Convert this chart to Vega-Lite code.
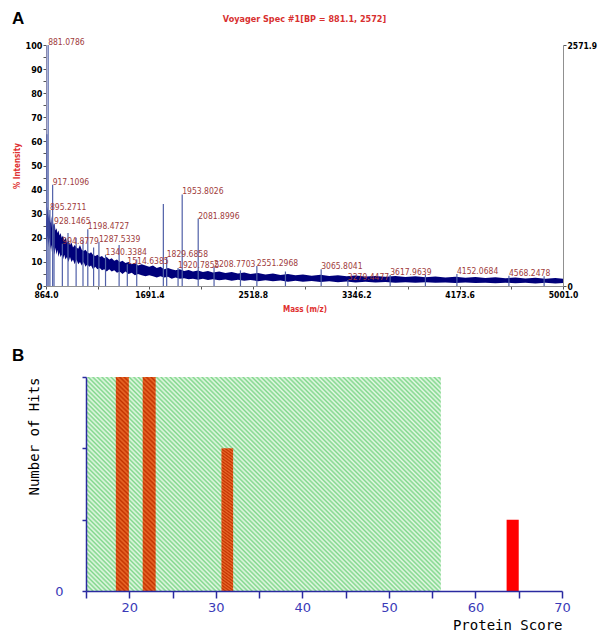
{
"$schema":"https://vega.github.io/schema/vega-lite/v6.json",
"background":"white",
"padding":{"left":12,"top":10,"right":4,"bottom":2},
"title":{"text":"A","anchor":"start","frame":"bounds","offset":-13,"fontSize":17,"fontWeight":"bold","font":"Liberation Sans, Arial, sans-serif","color":"#000000"},
"config":{"view":{"stroke":null},"axis":{"grid":false}},
"datasets":{
"band":[
{"mz":864,"lo":18,"hi":26},{"mz":868,"lo":20,"hi":30},{"mz":872,"lo":17,"hi":29},{"mz":876,"lo":21,"hi":33},{"mz":880,"lo":19,"hi":31},{"mz":885,"lo":16,"hi":28},{"mz":890,"lo":20,"hi":30},{"mz":895,"lo":18,"hi":27},{"mz":900,"lo":15,"hi":26},{"mz":906,"lo":17,"hi":29},{"mz":912,"lo":14,"hi":24},{"mz":918,"lo":17,"hi":27},{"mz":925,"lo":15,"hi":25},{"mz":932,"lo":13,"hi":26},{"mz":940,"lo":16,"hi":23},{"mz":948,"lo":13,"hi":24},{"mz":956,"lo":15,"hi":22},{"mz":964,"lo":12,"hi":23},{"mz":972,"lo":14,"hi":21},{"mz":980,"lo":12,"hi":22},{"mz":990,"lo":13,"hi":20},{"mz":1000,"lo":11,"hi":21},{"mz":1010,"lo":13,"hi":19},{"mz":1020,"lo":11,"hi":20},{"mz":1032,"lo":12,"hi":18},{"mz":1044,"lo":10,"hi":19},{"mz":1056,"lo":12,"hi":17},{"mz":1068,"lo":10,"hi":18},{"mz":1080,"lo":11,"hi":16},{"mz":1094,"lo":9,"hi":17},{"mz":1108,"lo":11,"hi":16},{"mz":1122,"lo":9,"hi":15.5},{"mz":1136,"lo":10,"hi":17},{"mz":1150,"lo":8.5,"hi":15},{"mz":1165,"lo":10,"hi":14.5},{"mz":1180,"lo":8,"hi":15},{"mz":1195,"lo":9,"hi":14},{"mz":1210,"lo":8,"hi":13.5},{"mz":1225,"lo":8.5,"hi":14},{"mz":1240,"lo":7,"hi":13},{"mz":1258,"lo":8,"hi":12.5},{"mz":1276,"lo":7,"hi":13},{"mz":1294,"lo":7.5,"hi":12},{"mz":1312,"lo":6.5,"hi":12.5},{"mz":1330,"lo":7,"hi":11.5},{"mz":1350,"lo":6,"hi":12},{"mz":1370,"lo":7,"hi":11},{"mz":1390,"lo":6,"hi":11.5},{"mz":1410,"lo":6.5,"hi":10.5},{"mz":1432,"lo":5.5,"hi":11},{"mz":1454,"lo":6,"hi":10},{"mz":1476,"lo":5,"hi":10.5},{"mz":1500,"lo":6,"hi":9.5},{"mz":1525,"lo":5,"hi":10},{"mz":1550,"lo":5.5,"hi":9},{"mz":1575,"lo":4.5,"hi":9.5},{"mz":1600,"lo":5,"hi":8.5},{"mz":1630,"lo":4.5,"hi":9},{"mz":1660,"lo":4,"hi":8.5},{"mz":1690,"lo":4.5,"hi":8},{"mz":1720,"lo":4,"hi":8.5},{"mz":1750,"lo":3.5,"hi":7.5},{"mz":1780,"lo":4,"hi":8},{"mz":1810,"lo":3.5,"hi":7},{"mz":1840,"lo":3.8,"hi":7.5},{"mz":1870,"lo":3,"hi":7},{"mz":1900,"lo":3.5,"hi":6.5},{"mz":1935,"lo":3,"hi":7},{"mz":1970,"lo":3.2,"hi":6.2},{"mz":2005,"lo":2.8,"hi":6.6},{"mz":2040,"lo":3,"hi":6},{"mz":2080,"lo":2.6,"hi":6.4},{"mz":2120,"lo":3,"hi":5.8},{"mz":2160,"lo":2.5,"hi":6.2},{"mz":2200,"lo":2.8,"hi":5.6},{"mz":2250,"lo":2.4,"hi":6},{"mz":2300,"lo":2.7,"hi":5.4},{"mz":2350,"lo":2.2,"hi":5.8},{"mz":2400,"lo":2.6,"hi":5.2},{"mz":2450,"lo":2.2,"hi":5.6},{"mz":2500,"lo":2.5,"hi":5},{"mz":2560,"lo":2,"hi":5.4},{"mz":2620,"lo":2.4,"hi":4.8},{"mz":2680,"lo":2,"hi":5.2},{"mz":2740,"lo":2.3,"hi":4.6},{"mz":2800,"lo":1.8,"hi":5},{"mz":2860,"lo":2.2,"hi":4.5},{"mz":2920,"lo":1.8,"hi":4.8},{"mz":2990,"lo":2.1,"hi":4.3},{"mz":3060,"lo":1.7,"hi":4.7},{"mz":3130,"lo":2,"hi":4.2},{"mz":3200,"lo":1.6,"hi":4.5},{"mz":3270,"lo":1.9,"hi":4},{"mz":3340,"lo":1.5,"hi":4.4},{"mz":3420,"lo":1.8,"hi":3.9},{"mz":3500,"lo":1.5,"hi":4.2},{"mz":3580,"lo":1.7,"hi":3.8},{"mz":3660,"lo":1.4,"hi":4.1},{"mz":3740,"lo":1.6,"hi":3.7},{"mz":3820,"lo":1.3,"hi":4},{"mz":3900,"lo":1.6,"hi":3.6},{"mz":3980,"lo":1.3,"hi":3.9},{"mz":4060,"lo":1.5,"hi":3.5},{"mz":4140,"lo":1.2,"hi":3.8},{"mz":4220,"lo":1.5,"hi":3.4},{"mz":4300,"lo":1.2,"hi":3.7},{"mz":4380,"lo":1.4,"hi":3.3},{"mz":4460,"lo":1.1,"hi":3.6},{"mz":4540,"lo":1.4,"hi":3.2},{"mz":4620,"lo":1.1,"hi":3.5},{"mz":4700,"lo":1.3,"hi":3.1},{"mz":4780,"lo":1,"hi":3.4},{"mz":4860,"lo":1.3,"hi":3},{"mz":4940,"lo":1,"hi":3.3},{"mz":5001,"lo":1.2,"hi":3}
],
"peaks":[
{"mz":871,"int":63,"label":""},{"mz":881.0786,"int":100,"label":"881.0786"},{"mz":895.2711,"int":31.5,"label":"895.2711"},{"mz":917.1096,"int":42,"label":"917.1096"},{"mz":928.1465,"int":25.7,"label":"928.1465"},{"mz":994.8779,"int":17.5,"label":"994.8779"},{"mz":1040,"int":22,"label":""},{"mz":1105,"int":20,"label":""},{"mz":1160,"int":19,"label":""},{"mz":1198.4727,"int":23.5,"label":"1198.4727"},{"mz":1245,"int":16,"label":""},{"mz":1287.5339,"int":18.3,"label":"1287.5339"},{"mz":1340.3384,"int":13,"label":"1340.3384"},{"mz":1449,"int":17,"label":""},{"mz":1514.6385,"int":9,"label":"1514.6385"},{"mz":1590,"int":11,"label":""},{"mz":1803,"int":34,"label":""},{"mz":1829.6858,"int":12,"label":"1829.6858"},{"mz":1920.7855,"int":7.5,"label":"1920.7855"},{"mz":1953.8026,"int":38,"label":"1953.8026"},{"mz":2081.8996,"int":28,"label":"2081.8996"},{"mz":2208.7703,"int":8,"label":"2208.7703"},{"mz":2420,"int":6.5,"label":""},{"mz":2551.2968,"int":8.3,"label":"2551.2968"},{"mz":2780,"int":6,"label":""},{"mz":3065.8041,"int":7,"label":"3065.8041"},{"mz":3279.4477,"int":2.5,"label":"3279.4477"},{"mz":3617.9639,"int":4.6,"label":"3617.9639"},{"mz":3900,"int":4.8,"label":""},{"mz":4152.0684,"int":5,"label":"4152.0684"},{"mz":4568.2478,"int":4.3,"label":"4568.2478"},{"mz":4850,"int":4,"label":""}
],
"sig":[{"from":15,"to":56,"top":3}],
"hits":[
{"start":18.45,"end":19.95,"hits":3,"zone":"in"},{"start":21.55,"end":23.05,"hits":3,"zone":"in"},{"start":30.65,"end":32.0,"hits":2,"zone":"in"},{"start":63.6,"end":65.0,"hits":1,"zone":"out"}
]
},
"spacing":33,
"vconcat":[
{
"width":517,"height":241,
"title":{"text":"Voyager Spec #1[BP = 881.1, 2572]","color":"#d83030","font":"DejaVu Sans Condensed, sans-serif","fontSize":9,"fontWeight":"bold","anchor":"middle","frame":"group","offset":14},
"resolve":{"axis":{"y":"independent"}},
"layer":[
{"data":{"name":"band"},"mark":{"type":"area","color":"#00007a","opacity":1},
"encoding":{
"x":{"field":"mz","type":"quantitative","title":"Mass (m/z)","scale":{"domain":[864,5001],"nice":false,"zero":false},
"axis":{"values":[864,1277.7,1691.4,2105.1,2518.8,2932.5,3346.2,3759.9,4173.6,4587.3,5001],"format":".1f","labelExpr":"round((datum.value-864)/413.7) % 2 == 0 ? datum.label : ''","labelFlush":false,"labelOverlap":false,"tickSize":3,"tickColor":"#555555","domainColor":"#909090","labelFont":"DejaVu Sans Condensed, sans-serif","labelFontWeight":"bold","labelFontSize":8.5,"labelColor":"#000000","labelPadding":1,"titleColor":"#e03030","titleFont":"DejaVu Sans Condensed, sans-serif","titleFontSize":8,"titleFontWeight":"bold","titlePadding":7}},
"y":{"field":"lo","type":"quantitative","title":"% Intensity","scale":{"domain":[0,100],"nice":false,"zero":true},
"axis":{"values":[0,5,10,15,20,25,30,35,40,45,50,55,60,65,70,75,80,85,90,95,100],"labelExpr":"datum.value % 10 == 0 ? datum.label : ''","labelOverlap":false,"tickSize":3,"tickColor":"#555555","domainColor":"#8a8ab0","labelFont":"DejaVu Sans Condensed, sans-serif","labelFontWeight":"bold","labelFontSize":9,"labelColor":"#000000","labelPadding":1,"titleColor":"#e03030","titleFont":"DejaVu Sans Condensed, sans-serif","titleFontSize":8,"titleFontWeight":"bold","titlePadding":4}},
"y2":{"field":"hi"}}},
{"data":{"name":"peaks"},"mark":{"type":"rule","color":"#5060a8","strokeWidth":1.2},
"encoding":{
"x":{"field":"mz","type":"quantitative","title":"Mass (m/z)","scale":{"domain":[864,5001],"nice":false,"zero":false}},
"y":{"field":"int","type":"quantitative","scale":{"domain":[0,100],"nice":false,"zero":true},"axis":null},
"y2":{"datum":0}}},
{"data":{"name":"peaks"},"mark":{"type":"text","align":"left","baseline":"alphabetic","color":"#a03c3c","font":"DejaVu Sans Condensed, sans-serif","fontSize":8.5},
"encoding":{
"x":{"field":"mz","type":"quantitative","title":"Mass (m/z)","scale":{"domain":[864,5001],"nice":false,"zero":false}},
"y":{"field":"int","type":"quantitative","scale":{"domain":[0,100],"nice":false,"zero":true},"axis":null},
"text":{"field":"label"}}},
{"data":{"name":"peaks"},"mark":{"type":"point","opacity":0},
"encoding":{
"x":{"field":"mz","type":"quantitative","title":"Mass (m/z)","scale":{"domain":[864,5001],"nice":false,"zero":false}},
"y":{"field":"int","type":"quantitative","scale":{"domain":[0,100],"nice":false,"zero":true},
"axis":{"orient":"right","title":null,"values":[0,100],"labelExpr":"datum.value == 100 ? '2571.9' : '0'","tickSize":3,"tickColor":"#555555","domainColor":"#909090","labelFont":"DejaVu Sans Condensed, sans-serif","labelFontWeight":"bold","labelFontSize":8.5,"labelColor":"#000000","labelPadding":1,"labelOverlap":false}}}}
]
},
{
"width":516,"height":214,
"title":{"text":"B","anchor":"start","frame":"group","dx":-34,"offset":6,"fontSize":17,"fontWeight":"bold","font":"Liberation Sans, Arial, sans-serif","color":"#000000"},
"layer":[
{"data":{"name":"sig"},
"mark":{"type":"rect","fill":{"gradient":"linear","x1":0,"y1":1,"x2":1.1755,"y2":0.291,"stops":[
{"offset":0,"color":"#e8f9e8"},{"offset":0.004,"color":"#7fd68a"},{"offset":0.008,"color":"#e8f9e8"},{"offset":0.012,"color":"#7fd68a"},{"offset":0.016,"color":"#e8f9e8"},{"offset":0.02,"color":"#7fd68a"},{"offset":0.024,"color":"#e8f9e8"},{"offset":0.028,"color":"#7fd68a"},{"offset":0.032,"color":"#e8f9e8"},{"offset":0.036,"color":"#7fd68a"},
{"offset":0.04,"color":"#e8f9e8"},{"offset":0.044,"color":"#7fd68a"},{"offset":0.048,"color":"#e8f9e8"},{"offset":0.052,"color":"#7fd68a"},{"offset":0.056,"color":"#e8f9e8"},{"offset":0.06,"color":"#7fd68a"},{"offset":0.064,"color":"#e8f9e8"},{"offset":0.068,"color":"#7fd68a"},{"offset":0.072,"color":"#e8f9e8"},{"offset":0.076,"color":"#7fd68a"},
{"offset":0.08,"color":"#e8f9e8"},{"offset":0.084,"color":"#7fd68a"},{"offset":0.088,"color":"#e8f9e8"},{"offset":0.092,"color":"#7fd68a"},{"offset":0.096,"color":"#e8f9e8"},{"offset":0.1,"color":"#7fd68a"},{"offset":0.104,"color":"#e8f9e8"},{"offset":0.108,"color":"#7fd68a"},{"offset":0.112,"color":"#e8f9e8"},{"offset":0.116,"color":"#7fd68a"},
{"offset":0.12,"color":"#e8f9e8"},{"offset":0.124,"color":"#7fd68a"},{"offset":0.128,"color":"#e8f9e8"},{"offset":0.132,"color":"#7fd68a"},{"offset":0.136,"color":"#e8f9e8"},{"offset":0.14,"color":"#7fd68a"},{"offset":0.144,"color":"#e8f9e8"},{"offset":0.148,"color":"#7fd68a"},{"offset":0.152,"color":"#e8f9e8"},{"offset":0.156,"color":"#7fd68a"},
{"offset":0.16,"color":"#e8f9e8"},{"offset":0.164,"color":"#7fd68a"},{"offset":0.168,"color":"#e8f9e8"},{"offset":0.172,"color":"#7fd68a"},{"offset":0.176,"color":"#e8f9e8"},{"offset":0.18,"color":"#7fd68a"},{"offset":0.184,"color":"#e8f9e8"},{"offset":0.188,"color":"#7fd68a"},{"offset":0.192,"color":"#e8f9e8"},{"offset":0.196,"color":"#7fd68a"},
{"offset":0.2,"color":"#e8f9e8"},{"offset":0.204,"color":"#7fd68a"},{"offset":0.208,"color":"#e8f9e8"},{"offset":0.212,"color":"#7fd68a"},{"offset":0.216,"color":"#e8f9e8"},{"offset":0.22,"color":"#7fd68a"},{"offset":0.224,"color":"#e8f9e8"},{"offset":0.228,"color":"#7fd68a"},{"offset":0.232,"color":"#e8f9e8"},{"offset":0.236,"color":"#7fd68a"},
{"offset":0.24,"color":"#e8f9e8"},{"offset":0.244,"color":"#7fd68a"},{"offset":0.248,"color":"#e8f9e8"},{"offset":0.252,"color":"#7fd68a"},{"offset":0.256,"color":"#e8f9e8"},{"offset":0.26,"color":"#7fd68a"},{"offset":0.264,"color":"#e8f9e8"},{"offset":0.268,"color":"#7fd68a"},{"offset":0.272,"color":"#e8f9e8"},{"offset":0.276,"color":"#7fd68a"},
{"offset":0.28,"color":"#e8f9e8"},{"offset":0.284,"color":"#7fd68a"},{"offset":0.288,"color":"#e8f9e8"},{"offset":0.292,"color":"#7fd68a"},{"offset":0.296,"color":"#e8f9e8"},{"offset":0.3,"color":"#7fd68a"},{"offset":0.304,"color":"#e8f9e8"},{"offset":0.308,"color":"#7fd68a"},{"offset":0.312,"color":"#e8f9e8"},{"offset":0.316,"color":"#7fd68a"},
{"offset":0.32,"color":"#e8f9e8"},{"offset":0.324,"color":"#7fd68a"},{"offset":0.328,"color":"#e8f9e8"},{"offset":0.332,"color":"#7fd68a"},{"offset":0.336,"color":"#e8f9e8"},{"offset":0.34,"color":"#7fd68a"},{"offset":0.344,"color":"#e8f9e8"},{"offset":0.348,"color":"#7fd68a"},{"offset":0.352,"color":"#e8f9e8"},{"offset":0.356,"color":"#7fd68a"},
{"offset":0.36,"color":"#e8f9e8"},{"offset":0.364,"color":"#7fd68a"},{"offset":0.368,"color":"#e8f9e8"},{"offset":0.372,"color":"#7fd68a"},{"offset":0.376,"color":"#e8f9e8"},{"offset":0.38,"color":"#7fd68a"},{"offset":0.384,"color":"#e8f9e8"},{"offset":0.388,"color":"#7fd68a"},{"offset":0.392,"color":"#e8f9e8"},{"offset":0.396,"color":"#7fd68a"},
{"offset":0.4,"color":"#e8f9e8"},{"offset":0.404,"color":"#7fd68a"},{"offset":0.408,"color":"#e8f9e8"},{"offset":0.412,"color":"#7fd68a"},{"offset":0.416,"color":"#e8f9e8"},{"offset":0.42,"color":"#7fd68a"},{"offset":0.424,"color":"#e8f9e8"},{"offset":0.428,"color":"#7fd68a"},{"offset":0.432,"color":"#e8f9e8"},{"offset":0.436,"color":"#7fd68a"},
{"offset":0.44,"color":"#e8f9e8"},{"offset":0.444,"color":"#7fd68a"},{"offset":0.448,"color":"#e8f9e8"},{"offset":0.452,"color":"#7fd68a"},{"offset":0.456,"color":"#e8f9e8"},{"offset":0.46,"color":"#7fd68a"},{"offset":0.464,"color":"#e8f9e8"},{"offset":0.468,"color":"#7fd68a"},{"offset":0.472,"color":"#e8f9e8"},{"offset":0.476,"color":"#7fd68a"},
{"offset":0.48,"color":"#e8f9e8"},{"offset":0.484,"color":"#7fd68a"},{"offset":0.488,"color":"#e8f9e8"},{"offset":0.492,"color":"#7fd68a"},{"offset":0.496,"color":"#e8f9e8"},{"offset":0.5,"color":"#7fd68a"},{"offset":0.504,"color":"#e8f9e8"},{"offset":0.508,"color":"#7fd68a"},{"offset":0.512,"color":"#e8f9e8"},{"offset":0.516,"color":"#7fd68a"},
{"offset":0.52,"color":"#e8f9e8"},{"offset":0.524,"color":"#7fd68a"},{"offset":0.528,"color":"#e8f9e8"},{"offset":0.532,"color":"#7fd68a"},{"offset":0.536,"color":"#e8f9e8"},{"offset":0.54,"color":"#7fd68a"},{"offset":0.544,"color":"#e8f9e8"},{"offset":0.548,"color":"#7fd68a"},{"offset":0.552,"color":"#e8f9e8"},{"offset":0.556,"color":"#7fd68a"},
{"offset":0.56,"color":"#e8f9e8"},{"offset":0.564,"color":"#7fd68a"},{"offset":0.568,"color":"#e8f9e8"},{"offset":0.572,"color":"#7fd68a"},{"offset":0.576,"color":"#e8f9e8"},{"offset":0.58,"color":"#7fd68a"},{"offset":0.584,"color":"#e8f9e8"},{"offset":0.588,"color":"#7fd68a"},{"offset":0.592,"color":"#e8f9e8"},{"offset":0.596,"color":"#7fd68a"},
{"offset":0.6,"color":"#e8f9e8"},{"offset":0.604,"color":"#7fd68a"},{"offset":0.608,"color":"#e8f9e8"},{"offset":0.612,"color":"#7fd68a"},{"offset":0.616,"color":"#e8f9e8"},{"offset":0.62,"color":"#7fd68a"},{"offset":0.624,"color":"#e8f9e8"},{"offset":0.628,"color":"#7fd68a"},{"offset":0.632,"color":"#e8f9e8"},{"offset":0.636,"color":"#7fd68a"},
{"offset":0.64,"color":"#e8f9e8"},{"offset":0.644,"color":"#7fd68a"},{"offset":0.648,"color":"#e8f9e8"},{"offset":0.652,"color":"#7fd68a"},{"offset":0.656,"color":"#e8f9e8"},{"offset":0.66,"color":"#7fd68a"},{"offset":0.664,"color":"#e8f9e8"},{"offset":0.668,"color":"#7fd68a"},{"offset":0.672,"color":"#e8f9e8"},{"offset":0.676,"color":"#7fd68a"},
{"offset":0.68,"color":"#e8f9e8"},{"offset":0.684,"color":"#7fd68a"},{"offset":0.688,"color":"#e8f9e8"},{"offset":0.692,"color":"#7fd68a"},{"offset":0.696,"color":"#e8f9e8"},{"offset":0.7,"color":"#7fd68a"},{"offset":0.704,"color":"#e8f9e8"},{"offset":0.708,"color":"#7fd68a"},{"offset":0.712,"color":"#e8f9e8"},{"offset":0.716,"color":"#7fd68a"},
{"offset":0.72,"color":"#e8f9e8"},{"offset":0.724,"color":"#7fd68a"},{"offset":0.728,"color":"#e8f9e8"},{"offset":0.732,"color":"#7fd68a"},{"offset":0.736,"color":"#e8f9e8"},{"offset":0.74,"color":"#7fd68a"},{"offset":0.744,"color":"#e8f9e8"},{"offset":0.748,"color":"#7fd68a"},{"offset":0.752,"color":"#e8f9e8"},{"offset":0.756,"color":"#7fd68a"},
{"offset":0.76,"color":"#e8f9e8"},{"offset":0.764,"color":"#7fd68a"},{"offset":0.768,"color":"#e8f9e8"},{"offset":0.772,"color":"#7fd68a"},{"offset":0.776,"color":"#e8f9e8"},{"offset":0.78,"color":"#7fd68a"},{"offset":0.784,"color":"#e8f9e8"},{"offset":0.788,"color":"#7fd68a"},{"offset":0.792,"color":"#e8f9e8"},{"offset":0.796,"color":"#7fd68a"},
{"offset":0.8,"color":"#e8f9e8"},{"offset":0.804,"color":"#7fd68a"},{"offset":0.808,"color":"#e8f9e8"},{"offset":0.812,"color":"#7fd68a"},{"offset":0.816,"color":"#e8f9e8"},{"offset":0.82,"color":"#7fd68a"},{"offset":0.824,"color":"#e8f9e8"},{"offset":0.828,"color":"#7fd68a"},{"offset":0.832,"color":"#e8f9e8"},{"offset":0.836,"color":"#7fd68a"},
{"offset":0.84,"color":"#e8f9e8"},{"offset":0.844,"color":"#7fd68a"},{"offset":0.848,"color":"#e8f9e8"},{"offset":0.852,"color":"#7fd68a"},{"offset":0.856,"color":"#e8f9e8"},{"offset":0.86,"color":"#7fd68a"},{"offset":0.864,"color":"#e8f9e8"},{"offset":0.868,"color":"#7fd68a"},{"offset":0.872,"color":"#e8f9e8"},{"offset":0.876,"color":"#7fd68a"},
{"offset":0.88,"color":"#e8f9e8"},{"offset":0.884,"color":"#7fd68a"},{"offset":0.888,"color":"#e8f9e8"},{"offset":0.892,"color":"#7fd68a"},{"offset":0.896,"color":"#e8f9e8"},{"offset":0.9,"color":"#7fd68a"},{"offset":0.904,"color":"#e8f9e8"},{"offset":0.908,"color":"#7fd68a"},{"offset":0.912,"color":"#e8f9e8"},{"offset":0.916,"color":"#7fd68a"},
{"offset":0.92,"color":"#e8f9e8"},{"offset":0.924,"color":"#7fd68a"},{"offset":0.928,"color":"#e8f9e8"},{"offset":0.932,"color":"#7fd68a"},{"offset":0.936,"color":"#e8f9e8"},{"offset":0.94,"color":"#7fd68a"},{"offset":0.944,"color":"#e8f9e8"},{"offset":0.948,"color":"#7fd68a"},{"offset":0.952,"color":"#e8f9e8"},{"offset":0.956,"color":"#7fd68a"},
{"offset":0.96,"color":"#e8f9e8"},{"offset":0.964,"color":"#7fd68a"},{"offset":0.968,"color":"#e8f9e8"},{"offset":0.972,"color":"#7fd68a"},{"offset":0.976,"color":"#e8f9e8"},{"offset":0.98,"color":"#7fd68a"},{"offset":0.984,"color":"#e8f9e8"},{"offset":0.988,"color":"#7fd68a"},{"offset":0.992,"color":"#e8f9e8"},{"offset":0.996,"color":"#7fd68a"},
{"offset":1,"color":"#e8f9e8"}
]}},
"encoding":{
"x":{"field":"from","type":"quantitative","title":"Protein Score","scale":{"domain":[15,70],"nice":false,"zero":false,"range":[40,516]},
"axis":{"values":[15,20,25,30,35,40,45,50,55,60,65,70],"labelExpr":"datum.value % 10 == 0 ? datum.label : ''","labelFlush":false,"labelOverlap":false,"zindex":1,"domainColor":"#2a2aa0","domainWidth":1.5,"tickColor":"#2a2aa0","tickWidth":1.5,"tickSize":7,"labelColor":"#3a3ab8","labelFont":"DejaVu Sans","labelFontSize":13,"labelPadding":3,"titleFont":"DejaVu Sans Mono","titleFontSize":14,"titleFontWeight":"normal","titleColor":"#000000","titleAnchor":"end","titlePadding":4}},
"x2":{"field":"to"},
"y":{"field":"top","type":"quantitative","title":"Number of Hits","scale":{"domain":[0,3],"nice":false,"zero":true},
"axis":{"offset":-40,"values":[0,1,2,3],"labelExpr":"datum.value == 0 ? '0' : ''","labelOverlap":false,"zindex":1,"domainColor":"#2a2aa0","domainWidth":1.5,"tickColor":"#2a2aa0","tickWidth":1.5,"tickSize":4,"labelColor":"#3a3ab8","labelFont":"DejaVu Sans","labelFontSize":13,"labelPadding":19,"titleFont":"DejaVu Sans Mono","titleFontSize":14,"titleFontWeight":"normal","titleColor":"#000000","titleAnchor":"end","titlePadding":13}},
"y2":{"datum":0}}},
{"data":{"name":"hits"},"mark":{"type":"rect"},
"encoding":{
"x":{"field":"start","type":"quantitative","title":"Protein Score","scale":{"domain":[15,70],"nice":false,"zero":false,"range":[40,516]}},
"x2":{"field":"end"},
"y":{"field":"hits","type":"quantitative","title":"Number of Hits","scale":{"domain":[0,3],"nice":false,"zero":true}},
"y2":{"datum":0},
"fill":{"condition":{"test":"datum.zone == 'in'","value":{"gradient":"linear","x1":0,"y1":1,"x2":0.0627,"y2":-0.0557,"stops":[
{"offset":0,"color":"#c23200"},{"offset":0.01,"color":"#ea6a2a"},{"offset":0.02,"color":"#c23200"},{"offset":0.03,"color":"#ea6a2a"},{"offset":0.04,"color":"#c23200"},{"offset":0.05,"color":"#ea6a2a"},{"offset":0.06,"color":"#c23200"},{"offset":0.07,"color":"#ea6a2a"},{"offset":0.08,"color":"#c23200"},{"offset":0.09,"color":"#ea6a2a"},
{"offset":0.1,"color":"#c23200"},{"offset":0.11,"color":"#ea6a2a"},{"offset":0.12,"color":"#c23200"},{"offset":0.13,"color":"#ea6a2a"},{"offset":0.14,"color":"#c23200"},{"offset":0.15,"color":"#ea6a2a"},{"offset":0.16,"color":"#c23200"},{"offset":0.17,"color":"#ea6a2a"},{"offset":0.18,"color":"#c23200"},{"offset":0.19,"color":"#ea6a2a"},
{"offset":0.2,"color":"#c23200"},{"offset":0.21,"color":"#ea6a2a"},{"offset":0.22,"color":"#c23200"},{"offset":0.23,"color":"#ea6a2a"},{"offset":0.24,"color":"#c23200"},{"offset":0.25,"color":"#ea6a2a"},{"offset":0.26,"color":"#c23200"},{"offset":0.27,"color":"#ea6a2a"},{"offset":0.28,"color":"#c23200"},{"offset":0.29,"color":"#ea6a2a"},
{"offset":0.3,"color":"#c23200"},{"offset":0.31,"color":"#ea6a2a"},{"offset":0.32,"color":"#c23200"},{"offset":0.33,"color":"#ea6a2a"},{"offset":0.34,"color":"#c23200"},{"offset":0.35,"color":"#ea6a2a"},{"offset":0.36,"color":"#c23200"},{"offset":0.37,"color":"#ea6a2a"},{"offset":0.38,"color":"#c23200"},{"offset":0.39,"color":"#ea6a2a"},
{"offset":0.4,"color":"#c23200"},{"offset":0.41,"color":"#ea6a2a"},{"offset":0.42,"color":"#c23200"},{"offset":0.43,"color":"#ea6a2a"},{"offset":0.44,"color":"#c23200"},{"offset":0.45,"color":"#ea6a2a"},{"offset":0.46,"color":"#c23200"},{"offset":0.47,"color":"#ea6a2a"},{"offset":0.48,"color":"#c23200"},{"offset":0.49,"color":"#ea6a2a"},
{"offset":0.5,"color":"#c23200"},{"offset":0.51,"color":"#ea6a2a"},{"offset":0.52,"color":"#c23200"},{"offset":0.53,"color":"#ea6a2a"},{"offset":0.54,"color":"#c23200"},{"offset":0.55,"color":"#ea6a2a"},{"offset":0.56,"color":"#c23200"},{"offset":0.57,"color":"#ea6a2a"},{"offset":0.58,"color":"#c23200"},{"offset":0.59,"color":"#ea6a2a"},
{"offset":0.6,"color":"#c23200"},{"offset":0.61,"color":"#ea6a2a"},{"offset":0.62,"color":"#c23200"},{"offset":0.63,"color":"#ea6a2a"},{"offset":0.64,"color":"#c23200"},{"offset":0.65,"color":"#ea6a2a"},{"offset":0.66,"color":"#c23200"},{"offset":0.67,"color":"#ea6a2a"},{"offset":0.68,"color":"#c23200"},{"offset":0.69,"color":"#ea6a2a"},
{"offset":0.7,"color":"#c23200"},{"offset":0.71,"color":"#ea6a2a"},{"offset":0.72,"color":"#c23200"},{"offset":0.73,"color":"#ea6a2a"},{"offset":0.74,"color":"#c23200"},{"offset":0.75,"color":"#ea6a2a"},{"offset":0.76,"color":"#c23200"},{"offset":0.77,"color":"#ea6a2a"},{"offset":0.78,"color":"#c23200"},{"offset":0.79,"color":"#ea6a2a"},
{"offset":0.8,"color":"#c23200"},{"offset":0.81,"color":"#ea6a2a"},{"offset":0.82,"color":"#c23200"},{"offset":0.83,"color":"#ea6a2a"},{"offset":0.84,"color":"#c23200"},{"offset":0.85,"color":"#ea6a2a"},{"offset":0.86,"color":"#c23200"},{"offset":0.87,"color":"#ea6a2a"},{"offset":0.88,"color":"#c23200"},{"offset":0.89,"color":"#ea6a2a"},
{"offset":0.9,"color":"#c23200"},{"offset":0.91,"color":"#ea6a2a"},{"offset":0.92,"color":"#c23200"},{"offset":0.93,"color":"#ea6a2a"},{"offset":0.94,"color":"#c23200"},{"offset":0.95,"color":"#ea6a2a"},{"offset":0.96,"color":"#c23200"},{"offset":0.97,"color":"#ea6a2a"},{"offset":0.98,"color":"#c23200"},{"offset":0.99,"color":"#ea6a2a"},
{"offset":1,"color":"#c23200"}
]}},"value":"#ff0000"}}}
]
}
]
}
